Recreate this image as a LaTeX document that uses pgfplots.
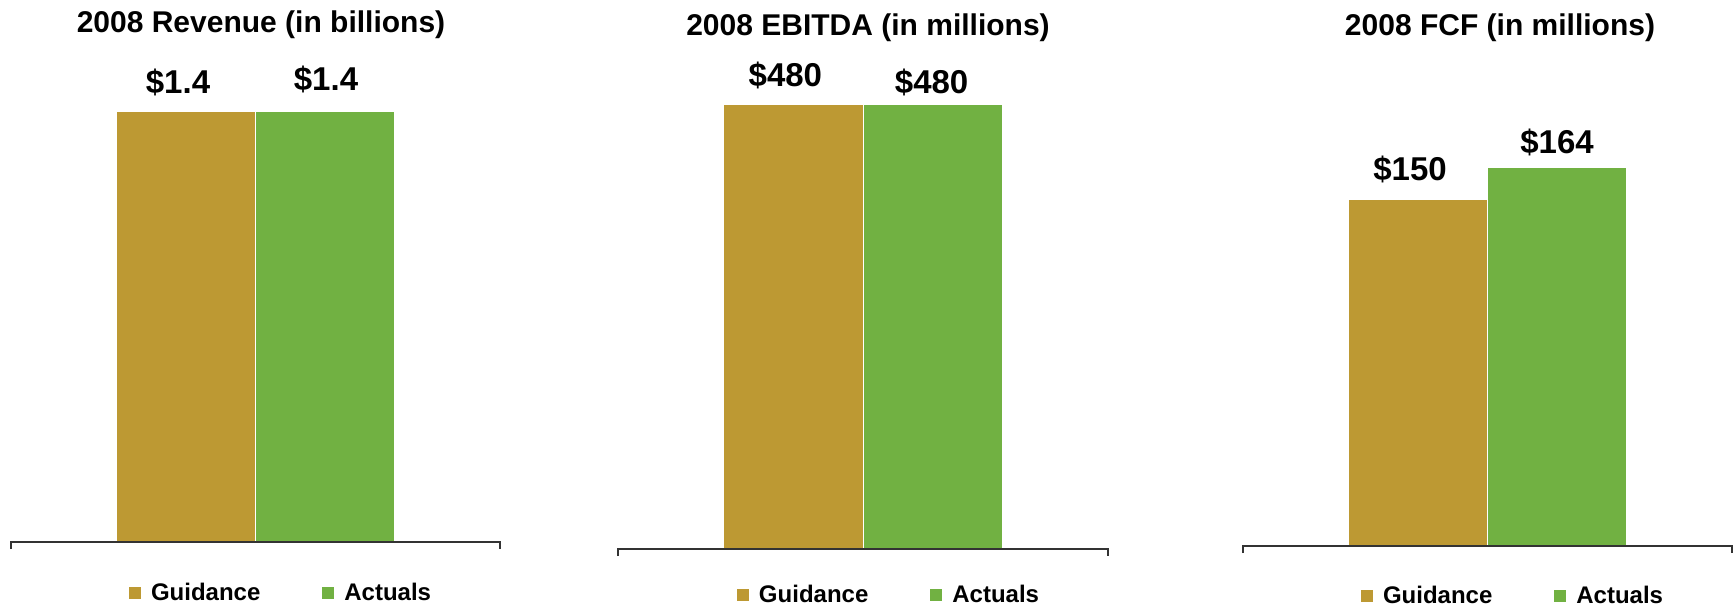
\documentclass[border=0pt]{standalone}
\usepackage{fontspec}
\setmainfont{Liberation Sans}
\usepackage{pgfplots}
\pgfplotsset{compat=1.18}
\definecolor{gold}{HTML}{BD9933}
\definecolor{grn}{HTML}{71B142}
\pgfplotsset{
  panel/.style={
    scale only axis, xmin=-1, xmax=1, ymin=0,
    axis lines=none, clip=false,
    legend columns=2,
    legend style={draw=none, fill=none, anchor=west, inner sep=0pt, outer sep=0pt,
      font=\fontsize{12}{14}\selectfont\bfseries,
      column sep=4.5pt,
      /tikz/every even column/.append style={column sep=30.5pt},
      nodes={inner sep=0pt}},
    after end axis/.code={
      \draw[black!80, line width=0.8pt] (rel axis cs:0,0) ++(0,-3.5pt) -- (rel axis cs:0,0) -- (rel axis cs:1,0) -- ++(0,-3.5pt);
    },
  },
  sqlegend/.style={legend image code/.code={\fill[##1] (0pt,-3.25pt) rectangle (6.5pt,3.25pt);}},
  gbar/.style={ybar, bar width=0.5685, bar shift=0pt, fill=gold, draw=white, line width=0.5pt, sqlegend},
  abar/.style={ybar, bar width=0.5685, bar shift=0pt, fill=grn, draw=white, line width=0.5pt, sqlegend},
}
\tikzset{
  lab/.style={anchor=base, inner sep=0pt, font=\fontsize{16.5}{18}\selectfont\bfseries},
  ttl/.style={anchor=base, inner sep=0pt, font=\fontsize{15}{18}\selectfont\bfseries},
}
\begin{document}
\begin{tikzpicture}
\useasboundingbox (0pt,0pt) rectangle (867.5pt,-303pt);

% Panel 1: Revenue
\begin{axis}[panel, at={(5.5pt,-271pt)}, anchor=south west,
  width=244.5pt, height=215.5pt, ymax=1.4,
  legend style={at={(0.2393,0)}, yshift=-25.5pt}]
  \addplot[gbar] coordinates {(-0.28425,1.4)};
  \addplot[abar] coordinates {(0.28425,1.4)};
  \legend{Guidance,Actuals}
  \node[lab, xshift=-4pt, yshift=9pt] at (axis cs:-0.28425,1.4) {\$1.4};
  \node[lab, xshift=0.5pt, yshift=10.5pt] at (axis cs:0.28425,1.4) {\$1.4};
\end{axis}

% Panel 2: EBITDA
\begin{axis}[panel, at={(309pt,-274.5pt)}, anchor=south west,
  width=245pt, height=222.5pt, ymax=480,
  legend style={at={(0.2408,0)}, yshift=-23pt}]
  \addplot[gbar] coordinates {(-0.28425,480)};
  \addplot[abar] coordinates {(0.28425,480)};
  \legend{Guidance,Actuals}
  \node[lab, xshift=-4pt, yshift=9pt] at (axis cs:-0.28425,480) {\$480};
  \node[lab, xshift=-0.5pt, yshift=5.5pt] at (axis cs:0.28425,480) {\$480};
\end{axis}

% Panel 3: FCF
\begin{axis}[panel, at={(621.5pt,-273pt)}, anchor=south west,
  width=244.5pt, height=189.5pt, ymax=164,
  legend style={at={(0.2393,0)}, yshift=-25pt}]
  \addplot[gbar] coordinates {(-0.28425,150)};
  \addplot[abar] coordinates {(0.28425,164)};
  \legend{Guidance,Actuals}
  \node[lab, xshift=-4pt, yshift=9.5pt] at (axis cs:-0.28425,150) {\$150};
  \node[lab, xshift=0pt, yshift=7pt] at (axis cs:0.28425,164) {\$164};
\end{axis}

\node[ttl] at (130.5pt,-16pt) {2008 Revenue (in billions)};
\node[ttl] at (434pt,-17.5pt) {2008 EBITDA (in millions)};
\node[ttl] at (750pt,-17.5pt) {2008 FCF (in millions)};
\end{tikzpicture}
\end{document}
